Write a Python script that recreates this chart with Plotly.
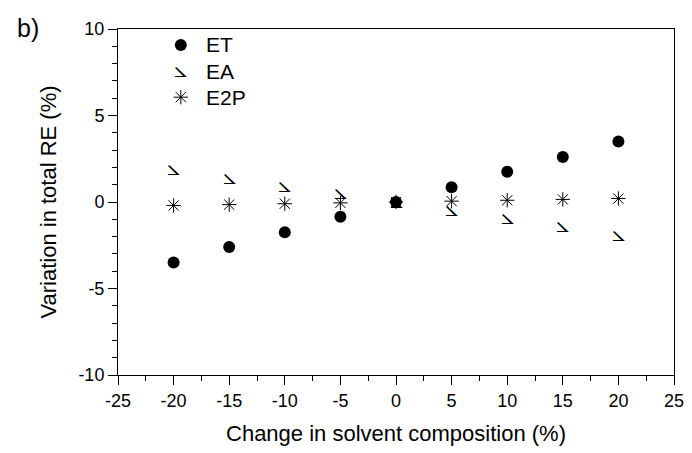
import plotly.graph_objects as go

change = [-20, -15, -10, -5, 0, 5, 10, 15, 20]
et = [-3.5, -2.6, -1.75, -0.85, 0.0, 0.85, 1.75, 2.6, 3.5]
ea = [1.9, 1.4, 0.9, 0.5, 0.0, -0.5, -0.95, -1.4, -1.9]
e2p = [-0.2, -0.15, -0.1, -0.05, 0.0, 0.05, 0.1, 0.15, 0.2]

series_names = ["ET", "EA", "E2P"]
x_tickvals = [-25, -20, -15, -10, -5, 0, 5, 10, 15, 20, 25]
x_ticktext = ["-25", "-20", "-15", "-10", "-5", "0", "5", "10", "15", "20", "25"]
y_tickvals = [-10, -5, 0, 5, 10]
y_ticktext = ["-10", "-5", "0", "5", "10"]

FONT = "Liberation Sans, Arial, sans-serif"
EA_GLYPH = "\u29a3"
EA_FONT = dict(family="DejaVu Sans", size=23, color="black")

fig = go.Figure()

fig.add_trace(go.Scatter(x=change, y=e2p, mode="markers", name="E2P",
                         marker=dict(symbol="asterisk-open", size=12, color="black",
                                     line=dict(color="black", width=1))))
fig.add_trace(go.Scatter(x=change, y=ea, mode="text", name="EA", text=[EA_GLYPH] * len(change),
                         textposition="middle center", textfont=EA_FONT))
fig.add_trace(go.Scatter(x=change, y=et, mode="markers", name="ET",
                         marker=dict(symbol="circle", size=12, color="black")))

# manual legend on an overlay axis spanning the plot area
leg_x = 0.113
leg_y = [0.954, 0.878, 0.803]
fig.add_trace(go.Scatter(x=[leg_x], y=[leg_y[0]], mode="markers", xaxis="x2", yaxis="y2",
                         marker=dict(symbol="circle", size=12, color="black"), hoverinfo="skip"))
fig.add_trace(go.Scatter(x=[leg_x], y=[leg_y[1]], mode="text", xaxis="x2", yaxis="y2",
                         text=[EA_GLYPH], textposition="middle center",
                         textfont=EA_FONT, hoverinfo="skip"))
fig.add_trace(go.Scatter(x=[leg_x], y=[leg_y[2]], mode="markers", xaxis="x2", yaxis="y2",
                         marker=dict(symbol="asterisk-open", size=12, color="black",
                                     line=dict(color="black", width=1)), hoverinfo="skip"))

annotations = []
for name, yy in zip(series_names, leg_y):
    annotations.append(dict(x=0.155, y=yy, xref="x2", yref="y2", text=name, showarrow=False,
                            xanchor="left", yanchor="middle",
                            font=dict(family=FONT, size=21, color="black")))
annotations.append(dict(x=-0.185, y=1.003, xref="paper", yref="paper", text="b)", showarrow=False,
                        xanchor="left", yanchor="middle", font=dict(family=FONT, size=25, color="black")))

axis_common = dict(showgrid=False, zeroline=False, showline=True, linecolor="black", linewidth=1,
                   mirror=True, ticks="outside", ticklen=9, tickwidth=1, tickcolor="black",
                   automargin=False,
                   tickfont=dict(family=FONT, size=18, color="black"))

# the page body adds an 8px offset, so the figure is 8px smaller and margins compensate
fig.update_layout(
    width=684, height=445,
    margin=dict(l=110, r=18, t=21, b=78),
    plot_bgcolor="white", paper_bgcolor="white",
    showlegend=False,
    annotations=annotations,
    xaxis=dict(range=[-25, 25], tickmode="array", tickvals=x_tickvals, ticktext=x_ticktext,
               minor=dict(dtick=2.5, tick0=0, ticks="outside", ticklen=5, tickwidth=1, tickcolor="black"),
               title=dict(text="Change in solvent composition (%)", font=dict(family=FONT, size=22, color="black"),
                          standoff=16),
               **axis_common),
    yaxis=dict(range=[-10, 10], tickmode="array", tickvals=y_tickvals, ticktext=y_ticktext,
               minor=dict(dtick=1, tick0=0, ticks="outside", ticklen=5, tickwidth=1, tickcolor="black"),
               title=dict(text="Variation in total RE (%)", font=dict(family=FONT, size=22, color="black"),
                          standoff=15),
               **axis_common),
    xaxis2=dict(overlaying="x", range=[0, 1], visible=False, fixedrange=True),
    yaxis2=dict(overlaying="y", range=[0, 1], visible=False, fixedrange=True),
)

fig.write_html("out.html")
